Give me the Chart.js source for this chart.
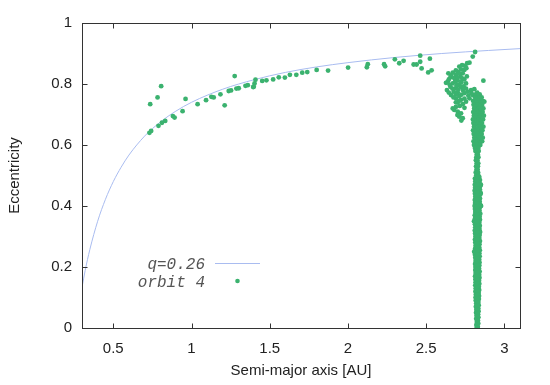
<!DOCTYPE html>
<html lang="en">
<head>
    <meta charset="UTF-8">
    <title>Eccentricity vs semi-major axis</title>
    <script src="https://cdn.jsdelivr.net/npm/chart.js"></script>
    <style>
        html, body { margin: 0; padding: 0; background: #fff; }
        #wrap { width: 550px; height: 385px; }
    </style>
</head>
<body>
<div id="wrap"><canvas id="orbitChart" width="550" height="385"></canvas></div>
<script>
    // tick labels
    const xTicks = [0.5, 1, 1.5, 2, 2.5, 3];
    const yTicks = [0, 0.2, 0.4, 0.6, 0.8, 1];

    // q=0.26 curve
    const curveA = [0.30, 0.32, 0.35, 0.40, 0.45, 0.50, 0.55, 0.60, 0.70, 0.80, 0.90, 1.00, 1.20, 1.40, 1.60, 1.80, 2.00, 2.30, 2.60, 2.90, 3.10];
    const curveE = [0.133, 0.188, 0.257, 0.350, 0.422, 0.480, 0.527, 0.567, 0.629, 0.675, 0.711, 0.740, 0.783, 0.814, 0.838, 0.856, 0.870, 0.887, 0.900, 0.910, 0.916];

    // orbit 4: points along the curve  [a, e]
    const trailPoints = [
        [0.736, 0.734], [0.783, 0.756], [0.806, 0.793], [0.731, 0.640], [0.742, 0.646],
        [0.789, 0.663], [0.811, 0.673], [0.832, 0.679], [0.881, 0.695], [0.892, 0.690],
        [0.943, 0.711], [0.962, 0.751], [1.039, 0.734], [1.093, 0.747], [1.127, 0.758],
        [1.142, 0.756], [1.185, 0.766], [1.212, 0.730], [1.276, 0.826], [1.238, 0.777],
        [1.253, 0.779], [1.287, 0.785], [1.302, 0.786], [1.345, 0.794], [1.360, 0.796],
        [1.394, 0.790], [1.403, 0.802], [1.409, 0.814], [1.398, 0.791], [1.452, 0.810],
        [1.479, 0.812], [1.522, 0.815], [1.558, 0.822], [1.597, 0.821], [1.629, 0.830],
        [1.670, 0.830], [1.708, 0.837], [1.740, 0.839], [1.800, 0.846], [1.873, 0.844],
        [2.001, 0.854], [2.121, 0.855], [2.127, 0.865], [2.231, 0.865], [2.238, 0.858],
        [2.300, 0.881], [2.328, 0.868], [2.356, 0.876], [2.420, 0.864], [2.439, 0.864],
        [2.462, 0.893], [2.462, 0.873], [2.471, 0.851], [2.524, 0.883], [2.513, 0.838],
        [2.535, 0.845], [2.813, 0.905], [2.798, 0.890], [2.866, 0.811], [2.872, 0.742]
    ];

    // orbit 4: clump left of the belt  [a, e]
    const clumpPoints = [
        [2.762, 0.868], [2.777, 0.870], [2.749, 0.859], [2.712, 0.857], [2.723, 0.848],
        [2.744, 0.846], [2.702, 0.840], [2.642, 0.835], [2.670, 0.837], [2.691, 0.830],
        [2.734, 0.835], [2.719, 0.824], [2.655, 0.822], [2.680, 0.819], [2.638, 0.808],
        [2.702, 0.811], [2.744, 0.815], [2.670, 0.802], [2.627, 0.804], [2.712, 0.797],
        [2.655, 0.791], [2.691, 0.786], [2.723, 0.791], [2.755, 0.802], [2.633, 0.780],
        [2.676, 0.775], [2.702, 0.772], [2.734, 0.780], [2.659, 0.764], [2.712, 0.761],
        [2.744, 0.770], [2.691, 0.753], [2.723, 0.748], [2.702, 0.739], [2.734, 0.734],
        [2.755, 0.742], [2.680, 0.715], [2.702, 0.709], [2.723, 0.704], [2.670, 0.720],
        [2.712, 0.693], [2.734, 0.688], [2.766, 0.775], [2.787, 0.780], [2.808, 0.783],
        [2.798, 0.764], [2.813, 0.758], [2.826, 0.772], [2.830, 0.753], [2.777, 0.753],
        [2.730, 0.862], [2.757, 0.852], [2.690, 0.845], [2.712, 0.835], [2.660, 0.828],
        [2.700, 0.822], [2.730, 0.818], [2.760, 0.825], [2.645, 0.815], [2.685, 0.808],
        [2.725, 0.806], [2.650, 0.798], [2.695, 0.796], [2.740, 0.792], [2.668, 0.785],
        [2.705, 0.782], [2.755, 0.785], [2.645, 0.772], [2.690, 0.766], [2.725, 0.765],
        [2.770, 0.762], [2.675, 0.756], [2.745, 0.752], [2.712, 0.745], [2.690, 0.740],
        [2.715, 0.728], [2.690, 0.725], [2.745, 0.722], [2.700, 0.698], [2.725, 0.680],
        [2.790, 0.770], [2.800, 0.745]
    ];

    // orbit 4: upper belt near 2.83 AU  [a, e]
    const beltUpper = [
        [2.818, 0.766], [2.842, 0.766], [2.828, 0.762],
        [2.814, 0.756], [2.838, 0.756], [2.855, 0.756],
        [2.822, 0.750], [2.846, 0.750],
        [2.809, 0.744], [2.834, 0.744], [2.863, 0.744],
        [2.820, 0.738], [2.848, 0.738],
        [2.803, 0.732], [2.827, 0.732], [2.858, 0.732],
        [2.816, 0.726], [2.844, 0.726],
        [2.807, 0.720], [2.836, 0.720], [2.866, 0.720],
        [2.820, 0.714], [2.850, 0.714],
        [2.801, 0.708], [2.830, 0.708], [2.861, 0.708],
        [2.816, 0.702], [2.846, 0.702],
        [2.805, 0.696], [2.824, 0.696], [2.852, 0.696], [2.869, 0.696],
        [2.818, 0.690], [2.840, 0.690],
        [2.799, 0.684], [2.833, 0.684], [2.864, 0.684],
        [2.815, 0.678], [2.848, 0.678],
        [2.802, 0.672], [2.829, 0.672], [2.857, 0.672],
        [2.816, 0.666], [2.846, 0.666],
        [2.806, 0.660], [2.838, 0.660], [2.866, 0.660],
        [2.820, 0.654], [2.850, 0.654],
        [2.800, 0.648], [2.826, 0.648], [2.860, 0.648],
        [2.815, 0.642], [2.843, 0.642],
        [2.804, 0.636], [2.831, 0.636], [2.855, 0.636],
        [2.818, 0.630], [2.846, 0.630],
        [2.808, 0.624], [2.835, 0.624], [2.862, 0.624],
        [2.815, 0.618], [2.845, 0.618],
        [2.803, 0.612], [2.829, 0.612], [2.858, 0.612],
        [2.818, 0.605], [2.840, 0.606],
        [2.806, 0.600], [2.826, 0.600], [2.846, 0.600],
        [2.812, 0.590], [2.834, 0.590],
        [2.815, 0.580], [2.836, 0.580],
        [2.824, 0.570], [2.830, 0.570],
        [2.821, 0.560], [2.834, 0.560],
        [2.818, 0.550], [2.828, 0.550],
        [2.823, 0.540], [2.833, 0.540],
        [2.819, 0.530], [2.831, 0.530],
        [2.822, 0.520], [2.829, 0.520],
        [2.817, 0.510], [2.832, 0.510],
        [2.820, 0.500], [2.834, 0.500]
    ];

    // orbit 4: lower belt  [a, e]
    const beltLower = [
        [2.812, 0.490], [2.840, 0.495], [2.814, 0.480], [2.844, 0.485],
        [2.811, 0.470], [2.842, 0.475], [2.813, 0.460], [2.845, 0.465],
        [2.810, 0.450], [2.843, 0.455], [2.812, 0.440], [2.847, 0.445],
        [2.814, 0.430], [2.841, 0.435], [2.811, 0.420], [2.844, 0.425],
        [2.813, 0.410], [2.842, 0.415], [2.810, 0.400], [2.845, 0.405],
        [2.812, 0.390], [2.843, 0.395], [2.814, 0.380], [2.841, 0.385],
        [2.811, 0.370], [2.846, 0.375], [2.813, 0.360], [2.842, 0.365],
        [2.815, 0.350], [2.844, 0.355], [2.812, 0.340], [2.840, 0.345],
        [2.814, 0.330], [2.843, 0.335], [2.811, 0.320], [2.841, 0.325],
        [2.813, 0.310], [2.845, 0.315], [2.815, 0.300], [2.842, 0.305],
        [2.812, 0.290], [2.840, 0.295], [2.814, 0.280], [2.844, 0.285],
        [2.816, 0.270], [2.841, 0.275], [2.813, 0.260], [2.839, 0.265],
        [2.815, 0.250], [2.843, 0.255], [2.812, 0.240], [2.840, 0.245],
        [2.814, 0.230], [2.842, 0.235], [2.816, 0.220], [2.839, 0.225],
        [2.813, 0.210], [2.841, 0.215], [2.815, 0.200], [2.840, 0.205],
        [2.814, 0.190], [2.838, 0.195], [2.816, 0.180], [2.842, 0.185],
        [2.813, 0.170], [2.839, 0.175], [2.815, 0.160], [2.841, 0.165],
        [2.816, 0.150], [2.838, 0.155], [2.814, 0.140], [2.840, 0.145],
        [2.817, 0.130], [2.837, 0.135], [2.815, 0.120], [2.839, 0.125],
        [2.818, 0.110], [2.836, 0.115], [2.816, 0.100], [2.838, 0.105],
        [2.817, 0.090], [2.837, 0.095], [2.820, 0.080], [2.834, 0.085],
        [2.818, 0.070], [2.836, 0.075], [2.821, 0.060], [2.833, 0.065],
        [2.819, 0.050], [2.835, 0.055], [2.822, 0.040], [2.832, 0.045],
        [2.820, 0.030], [2.834, 0.035], [2.824, 0.020], [2.831, 0.025],
        [2.821, 0.010], [2.833, 0.015], [2.823, 0.000], [2.830, 0.005],
        [2.850, 0.470], [2.849, 0.440], [2.806, 0.350], [2.851, 0.400], [2.807, 0.250]
    ];

    // orbit 4: middle of the lower belt  [a, e]
    const beltCore = [
        [2.827, 0.003], [2.828, 0.015], [2.826, 0.027], [2.829, 0.039], [2.827, 0.051],
        [2.826, 0.063], [2.828, 0.075], [2.827, 0.087], [2.829, 0.099], [2.826, 0.111],
        [2.828, 0.123], [2.827, 0.135], [2.825, 0.147], [2.829, 0.159], [2.827, 0.171],
        [2.826, 0.183], [2.828, 0.195], [2.827, 0.207], [2.825, 0.219], [2.829, 0.231],
        [2.826, 0.243], [2.828, 0.255], [2.827, 0.267], [2.825, 0.279], [2.829, 0.291],
        [2.827, 0.303], [2.826, 0.315], [2.828, 0.327], [2.827, 0.339], [2.825, 0.351],
        [2.829, 0.363], [2.826, 0.375], [2.828, 0.387], [2.827, 0.399], [2.825, 0.411],
        [2.829, 0.423], [2.827, 0.435], [2.826, 0.447], [2.828, 0.459], [2.827, 0.471],
        [2.825, 0.483], [2.829, 0.495]
    ];

    const toXY = p => ({ x: p[0], y: p[1] });
    const orbitData = [].concat(trailPoints, clumpPoints, beltUpper, beltLower, beltCore).map(toXY);
    const curveData = curveA.map((a, i) => ({ x: a, y: curveE[i] }));

    // box with inward ticks, gnuplot style
    const framePlugin = {
        id: 'frame',
        afterDatasetsDraw(chart) {
            const { ctx, chartArea: area, scales: { x, y } } = chart;
            const L = Math.round(area.left) + 0.5, R = Math.round(area.right) + 0.5;
            const T = Math.round(area.top) + 0.5, B = Math.round(area.bottom) + 0.5;
            const len = 5;
            ctx.save();
            ctx.strokeStyle = '#333';
            ctx.lineWidth = 1;
            ctx.strokeRect(L, T, R - L, B - T);
            ctx.beginPath();
            xTicks.forEach(v => {
                const px = Math.round(x.getPixelForValue(v)) + 0.5;
                ctx.moveTo(px, B); ctx.lineTo(px, B - len);
                ctx.moveTo(px, T); ctx.lineTo(px, T + len);
            });
            yTicks.forEach(v => {
                const py = Math.round(y.getPixelForValue(v)) + 0.5;
                ctx.moveTo(L, py); ctx.lineTo(L + len, py);
                ctx.moveTo(R, py); ctx.lineTo(R - len, py);
            });
            ctx.stroke();
            ctx.restore();
        }
    };

    // key in the lower left, like the original
    const keyPlugin = {
        id: 'key',
        afterDraw(chart) {
            const { ctx, chartArea: area } = chart;
            const tx = area.left + 123;
            ctx.save();
            ctx.font = 'italic 16px "Liberation Mono", monospace';
            ctx.fillStyle = '#555';
            ctx.textAlign = 'right';
            ctx.textBaseline = 'middle';
            ctx.fillText('q=0.26', tx, area.top + 242);
            ctx.fillText('orbit 4', tx, area.top + 260);
            ctx.strokeStyle = '#a9bcf0';
            ctx.lineWidth = 1;
            ctx.beginPath();
            ctx.moveTo(area.left + 133, area.top + 240.5);
            ctx.lineTo(area.left + 178, area.top + 240.5);
            ctx.stroke();
            ctx.fillStyle = '#3bb26f';
            ctx.beginPath();
            ctx.arc(area.left + 155.5, area.top + 258, 2.3, 0, Math.PI * 2);
            ctx.fill();
            ctx.restore();
        }
    };

    const ctx = document.getElementById('orbitChart').getContext('2d');
    const orbitChart = new Chart(ctx, {
        type: 'scatter',
        data: {
            datasets: [{
                label: 'orbit 4',
                data: orbitData,
                backgroundColor: '#3bb26f',
                borderWidth: 0,
                pointRadius: 2.4,
                order: 0
            }, {
                label: 'q=0.26',
                type: 'line',
                data: curveData,
                borderColor: '#a9bcf0',
                borderWidth: 1,
                pointRadius: 0,
                cubicInterpolationMode: 'monotone',
                fill: false,
                order: 1
            }]
        },
        options: {
            responsive: false,
            animation: false,
            layout: { padding: { left: 0, right: 30, top: 23, bottom: 0 } },
            plugins: {
                legend: { display: false },
                tooltip: { enabled: false }
            },
            scales: {
                x: {
                    type: 'linear',
                    min: 0.3,
                    max: 3.1,
                    afterBuildTicks: s => { s.ticks = xTicks.map(v => ({ value: v })); },
                    afterFit: s => { s.height = 57; },
                    grid: { display: false, drawTicks: false },
                    border: { display: false },
                    ticks: {
                        padding: 12,
                        color: '#222',
                        font: { family: '"Liberation Sans", Arial, sans-serif', size: 15 },
                        callback: v => String(v)
                    },
                    title: {
                        display: true,
                        text: 'Semi-major axis [AU]',
                        color: '#222',
                        font: { family: '"Liberation Sans", Arial, sans-serif', size: 15 },
                        padding: { top: 0, bottom: 5 }
                    }
                },
                y: {
                    type: 'linear',
                    min: 0,
                    max: 1,
                    afterBuildTicks: s => { s.ticks = yTicks.map(v => ({ value: v })); },
                    afterFit: s => { s.width = 82; },
                    grid: { display: false, drawTicks: false },
                    border: { display: false },
                    ticks: {
                        padding: 10,
                        color: '#222',
                        font: { family: '"Liberation Sans", Arial, sans-serif', size: 15 },
                        callback: v => String(v)
                    },
                    title: {
                        display: true,
                        text: 'Eccentricity',
                        color: '#222',
                        font: { family: '"Liberation Sans", Arial, sans-serif', size: 15 },
                        padding: { top: 6, bottom: 0 }
                    }
                }
            }
        },
        plugins: [framePlugin, keyPlugin]
    });
</script>
</body>
</html>
